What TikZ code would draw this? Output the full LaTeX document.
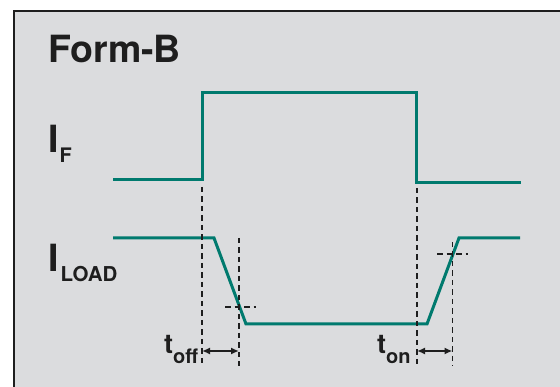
\documentclass[tikz,border=0pt]{standalone}
\usepackage{fontspec}
\setmainfont{TeX Gyre Heros}
\usetikzlibrary{arrows.meta}
\definecolor{bgray}{HTML}{DBDCDE}
\definecolor{teal}{HTML}{007A6E}
\definecolor{ink}{HTML}{1E1E1E}
\begin{document}
\begin{tikzpicture}[x=1pt,y=-1pt,
  wave/.style={draw=teal, line width=3pt, line join=miter},
  guide/.style={draw=ink, line width=1.7pt, dash pattern=on 5.5pt off 4pt},
  dim/.style={draw=ink, line width=1.7pt, {Latex[length=8pt,width=7pt]}-{Latex[length=8pt,width=7pt]}},
  lbl/.style={inner sep=0pt, anchor=base west, text=ink, font=\bfseries}]
\useasboundingbox (0,0) rectangle (560,387);
\fill[white] (0,0) rectangle (560,387);
\draw[fill=bgray, draw=ink, line width=2.6pt] (14,11) rectangle (580,400);
% labels
\node[lbl, font=\bfseries\fontsize{37.5}{40}\selectfont] (title) at (48,63) {Form-B};
\node[lbl, font=\bfseries\fontsize{37.5}{40}\selectfont] (lif) at (48,153) {I\kern1pt\raisebox{-10pt}{\fontsize{20}{20}\selectfont F}};
\node[lbl, font=\bfseries\fontsize{37.5}{40}\selectfont] (lload) at (48,272) {I\kern2pt\raisebox{-10pt}{\fontsize{20.5}{20}\selectfont LOAD}};
\node[lbl, font=\bfseries\fontsize{27}{28}\selectfont] (toff) at (164,354) {t\raisebox{-10pt}{\fontsize{20}{20}\selectfont off}};
\node[lbl, font=\bfseries\fontsize{27}{28}\selectfont] (ton) at (377,354) {t\raisebox{-10pt}{\fontsize{20}{20}\selectfont on}};
% IF waveform
\coordinate (f0) at (113,180);
\coordinate (f1) at (202.5,180);
\coordinate (f2) at (202.5,93);
\coordinate (f3) at (416.5,93);
\coordinate (f4) at (416.5,182.5);
\coordinate (f5) at (521,182.5);
\draw[wave] (f0) -- (f1) -- (f2) -- (f3) -- (f4) -- (f5);
% ILOAD waveform
\coordinate (l0) at (113,238);
\coordinate (l1) at (214,238);
\coordinate (l2) at (246,324);
\coordinate (l3) at (427,324);
\coordinate (l4) at (459,238);
\coordinate (l5) at (520,238);
\draw[wave] (l0) -- (l1) -- (l2) -- (l3) -- (l4) -- (l5);
% guides
\coordinate (g1t) at (202,187); \coordinate (g1b) at (202,366);
\coordinate (g2t) at (239,238); \coordinate (g2b) at (239,366);
\coordinate (g3t) at (417,188); \coordinate (g3b) at (417,366);
\coordinate (g4t) at (452.5,242); \coordinate (g4b) at (452.5,366);
\draw[guide] (g1t) -- (g1b);
\draw[guide] (g2t) -- (g2b);
\draw[guide] (g3t) -- (g3b);
\draw[guide] (g4t) -- (g4b);
\coordinate (h1a) at (225,307); \coordinate (h1b) at (256,307);
\coordinate (h2a) at (437,254); \coordinate (h2b) at (468,254);
\draw[guide] (h1a) -- (h1b);
\draw[guide] (h2a) -- (h2b);
% dimension arrows
\coordinate (a1) at (202,351); \coordinate (a2) at (239,351);
\coordinate (a3) at (417,351); \coordinate (a4) at (452.5,351);
\draw[dim] (a1) -- (a2);
\draw[dim] (a3) -- (a4);
\end{tikzpicture}
\end{document}
